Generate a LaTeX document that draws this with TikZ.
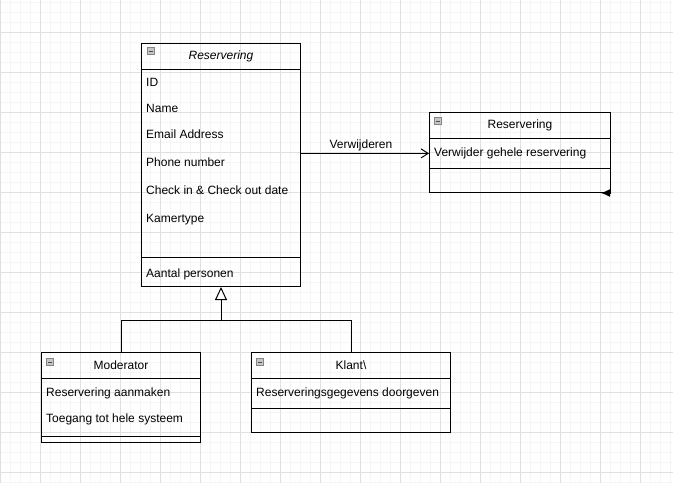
\documentclass[tikz,border=0pt]{standalone}
\usepackage{fontspec}
\setmainfont{Liberation Sans}
\definecolor{grid minor}{HTML}{F5F5F5}
\definecolor{grid major}{HTML}{E0E0E0}
\definecolor{icon gray}{HTML}{C6C6C6}
\definecolor{icon border}{HTML}{858585}
\usetikzlibrary{calc,positioning,arrows.meta}
\tikzstyle{line} = [line width=1pt, black]
\tikzstyle{line>} = [line,-{Straight Barb[length=7pt,width=9pt]}]
\tikzstyle{inherit line} = [line,-{Triangle[open,length=13pt,width=12pt,fill=white]}]
\tikzstyle{class box}=[line, draw, rectangle, anchor=north west, inner sep=0pt]
\tikzstyle{class title}=[font=\fontsize{12}{14}\selectfont, inner sep=0pt]
\tikzstyle{class row}=[font=\fontsize{12}{14}\selectfont, anchor=base west, inner sep=0pt]
\tikzstyle{collapse icon}=[draw=icon border, fill=icon gray, line width=0.8pt, minimum size=7pt, inner sep=0pt,
  path picture={\draw[line width=1pt, black!70] ([xshift=1.5pt]path picture bounding box.west) -- ([xshift=-1.5pt]path picture bounding box.east);}]

\begin{document}
\begin{tikzpicture}[x=1pt, y=-1pt]
        \useasboundingbox (0,0) rectangle (673,483);
        \foreach \gx in {0,10,...,670} \draw[grid minor, line width=1pt] (\gx,0) -- (\gx,483);
        \foreach \gy in {2,12,...,482} \draw[grid minor, line width=1pt] (0,\gy) -- (673,\gy);
        \foreach \gx in {0,40,...,640} \draw[grid major, line width=1pt] (\gx,0) -- (\gx,483);
        \foreach \gy in {32,72,...,472} \draw[grid major, line width=1pt] (0,\gy) -- (673,\gy);

        \node[class box, minimum width=159pt, minimum height=243pt] (reservering) at (141,43) {};
        \node[collapse icon] (reservering-icon) at ([xshift=10pt,yshift=-8pt]reservering.north west) {};
        \node[class title, font=\fontsize{12}{14}\selectfont\itshape] (reservering-title) at ([yshift=-13pt]reservering.north) {Reservering};
        \draw[line] ([yshift=-26pt]reservering.north west) -- ([yshift=-26pt]reservering.north east);
        \draw[line] ([yshift=30pt]reservering.south west) -- ([yshift=30pt]reservering.south east);
        \node[class row] (id) at (146,86.5) {ID};
        \node[class row] (name) at (146,112.5) {Name};
        \node[class row] (email) at (146,138.5) {Email Address};
        \node[class row] (phone) at (146,166.5) {Phone number};
        \node[class row] (check) at (146,194.5) {Check in \& Check out date};
        \node[class row] (kamertype) at (146,222.5) {Kamertype};
        \node[class row] (personen) at (146,277.5) {Aantal personen};

        \node[class box, minimum width=181pt, minimum height=80pt] (verwijdering) at (429,112) {};
        \node[collapse icon] (verwijdering-icon) at ([xshift=9pt,yshift=-9pt]verwijdering.north west) {};
        \node[class title] (verwijdering-title) at ([yshift=-13.5pt]verwijdering.north) {Reservering};
        \draw[line] ([yshift=-26pt]verwijdering.north west) -- ([yshift=-26pt]verwijdering.north east);
        \draw[line] ([yshift=-56pt]verwijdering.north west) -- ([yshift=-56pt]verwijdering.north east);
        \node[class row] (verwijder) at (434,156.5) {Verwijder gehele reservering};

        \node[class box, minimum width=159pt, minimum height=90pt] (moderator) at (41,352) {};
        \node[collapse icon] (moderator-icon) at ([xshift=9pt,yshift=-10pt]moderator.north west) {};
        \node[class title] (moderator-title) at ([yshift=-13.5pt]moderator.north) {Moderator};
        \draw[line] ([yshift=-26pt]moderator.north west) -- ([yshift=-26pt]moderator.north east);
        \draw[line] ([yshift=7pt]moderator.south west) -- ([yshift=7pt]moderator.south east);
        \node[class row] (aanmaken) at (46,396) {Reservering aanmaken};
        \node[class row] (toegang) at (46,422) {Toegang tot hele systeem};

        \node[class box, minimum width=199pt, minimum height=80pt] (klant) at (251,352) {};
        \node[collapse icon] (klant-icon) at ([xshift=9pt,yshift=-10pt]klant.north west) {};
        \node[class title] (klant-title) at ([yshift=-13.5pt]klant.north) {Klant\textbackslash};
        \draw[line] ([yshift=-26pt]klant.north west) -- ([yshift=-26pt]klant.north east);
        \draw[line] ([yshift=-56pt]klant.north west) -- ([yshift=-56pt]klant.north east);
        \node[class row] (gegevens) at (256,396) {Reserveringsgegevens doorgeven};

        \coordinate (split) at ($(reservering.south)+(0,33)$);
        \draw[inherit line] (moderator.north) |- (split) -- (reservering.south);
        \draw[line] (klant.north) |- (split);

        \draw[line>] (reservering.east |- verwijder.west) -- node[class title, above=2pt, xshift=-4pt] {Verwijderen} (verwijdering.west |- verwijder.west);
        \coordinate (loop-end) at ([xshift=-10pt]verwijdering.south east);
        \draw[line, -{Latex[length=9pt,width=8pt]}] (verwijdering.south east) -- (loop-end);
    \end{tikzpicture}
\end{document}
